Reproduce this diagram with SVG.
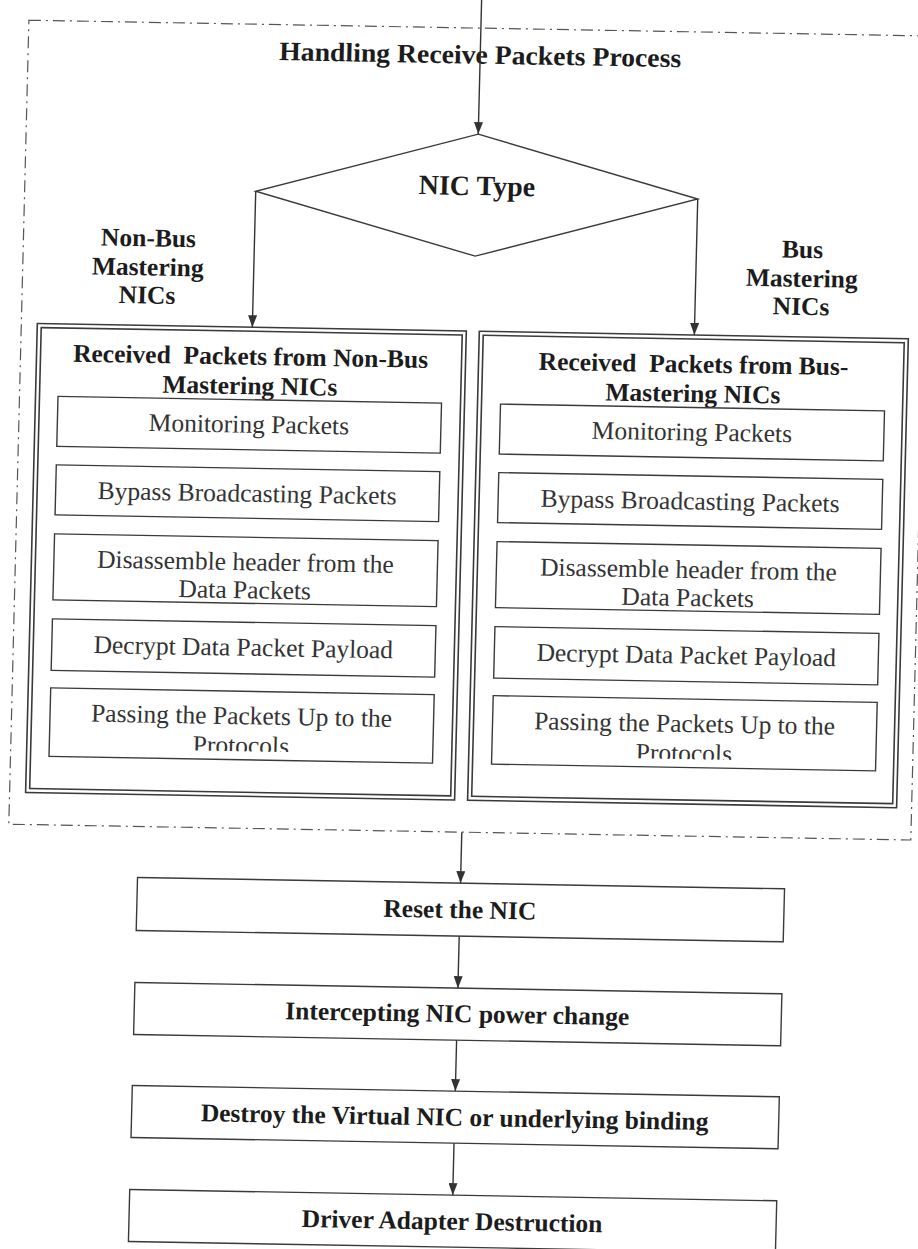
<svg xmlns="http://www.w3.org/2000/svg" width="918" height="1249" viewBox="0 0 918 1249">
<style>
text{font-family:"Liberation Serif","Times New Roman",serif;text-anchor:middle}
.b{font-weight:bold;fill:#1c1c1c}
.r{fill:#333}
.t{font-size:26.5px}
.l{font-size:25.5px}
.s{font-size:25.5px}
.box{fill:none;stroke:#3a3a3a;stroke-width:1.4}
.dbl{fill:none;stroke:#3a3a3a;stroke-width:1.6}
.frame{fill:none;stroke:#555;stroke-width:1.2;stroke-dasharray:12 5 2 5}
.con{fill:none;stroke:#333;stroke-width:1.4}
</style>
<defs>
<marker id="ah" viewBox="0 0 12 9" refX="12" refY="4.5" markerWidth="12" markerHeight="9" markerUnits="userSpaceOnUse" orient="auto">
<path d="M0,0 L12,4.5 L0,9 z" fill="#333"/>
</marker>
<clipPath id="clipL"><rect x="52" y="695" width="384" height="60"/></clipPath>
<clipPath id="clipR"><rect x="495" y="695" width="384" height="60"/></clipPath>
</defs>
<rect width="918" height="1249" fill="#fff"/>
<g transform="matrix(1 0.0175 -0.025 1 15.6 -8.03)">
<g id="process-frame">
<rect class="frame" x="14" y="28" width="902" height="804"/>
<text class="b t" x="466" y="63.5" textLength="402" lengthAdjust="spacingAndGlyphs">Handling Receive Packets Process</text>
</g>
<g id="nic-type">
<polygon class="box" points="466,134 687,195 466,256 245,195"/>
<text class="b" style="font-size:28px" x="466" y="195">NIC Type</text>
</g>
<g id="label-non-bus">
<text class="b l" x="139" y="252">Non-Bus</text>
<text class="b l" x="139" y="281">Mastering</text>
<text class="b l" x="139" y="309">NICs</text>
</g>
<g id="label-bus">
<text class="b l" x="793" y="252">Bus</text>
<text class="b l" x="793" y="281">Mastering</text>
<text class="b l" x="793" y="309">NICs</text>
</g>
<g id="non-bus-column">
<rect class="dbl" x="30" y="331" width="429" height="469"/>
<rect class="dbl" x="34" y="335" width="421" height="461"/>
<text class="b s" x="244" y="368.5" xml:space="preserve">Received  Packets from Non-Bus</text>
<text class="b s" x="244" y="398">Mastering NICs</text>
<g id="nb-monitor"><rect class="box" x="52.5" y="403.5" width="383.5" height="50"/><text class="r s" x="244" y="436.5">Monitoring Packets</text></g>
<g id="nb-bypass"><rect class="box" x="52.5" y="472" width="383.5" height="50"/><text class="r s" x="244" y="505.5">Bypass Broadcasting Packets</text></g>
<g id="nb-disassemble"><rect class="box" x="52.5" y="541" width="383.5" height="66"/><text class="r s" x="244" y="574">Disassemble header from the</text><text class="r s" x="244" y="602">Data Packets</text></g>
<g id="nb-decrypt"><rect class="box" x="52.5" y="626" width="383.5" height="51.5"/><text class="r s" x="244" y="659.5">Decrypt Data Packet Payload</text></g>
<g id="nb-passing"><rect class="box" x="52.5" y="695" width="383.5" height="68.5"/><text class="r s" x="244" y="728">Passing the Packets Up to the</text><text class="r s" x="244" y="757.5" clip-path="url(#clipL)">Protocols</text></g>
</g>
<g id="bus-column">
<rect class="dbl" x="472" y="331" width="429" height="469"/>
<rect class="dbl" x="476" y="335" width="421" height="461"/>
<text class="b s" x="687" y="368.5" xml:space="preserve">Received  Packets from Bus-</text>
<text class="b s" x="687" y="398">Mastering NICs</text>
<g id="b-monitor"><rect class="box" x="495" y="403.5" width="384" height="50"/><text class="r s" x="687" y="436.5">Monitoring Packets</text></g>
<g id="b-bypass"><rect class="box" x="495" y="472" width="384" height="50"/><text class="r s" x="687" y="505.5">Bypass Broadcasting Packets</text></g>
<g id="b-disassemble"><rect class="box" x="495" y="541" width="384" height="66"/><text class="r s" x="687" y="574">Disassemble header from the</text><text class="r s" x="687" y="602">Data Packets</text></g>
<g id="b-decrypt"><rect class="box" x="495" y="626" width="384" height="51.5"/><text class="r s" x="687" y="659.5">Decrypt Data Packet Payload</text></g>
<g id="b-passing"><rect class="box" x="495" y="695" width="384" height="68.5"/><text class="r s" x="687" y="728">Passing the Packets Up to the</text><text class="r s" x="687" y="757.5" clip-path="url(#clipR)">Protocols</text></g>
</g>
<g id="reset-nic"><rect class="box" x="144" y="883" width="647" height="53"/><text class="b s" x="467" y="918">Reset the NIC</text></g>
<g id="power-change"><rect class="box" x="144" y="988" width="647" height="52"/><text class="b s" x="467" y="1022">Intercepting NIC power change</text></g>
<g id="destroy-virtual"><rect class="box" x="144" y="1091" width="647" height="52"/><text class="b s" x="467" y="1125.5">Destroy the Virtual NIC or underlying binding</text></g>
<g id="driver-destruction"><rect class="box" x="144" y="1195" width="647" height="52"/><text class="b s" x="467" y="1229.5">Driver Adapter Destruction</text></g>
<g id="connectors">
<line class="con" x1="466" y1="-10" x2="466" y2="134" marker-end="url(#ah)"/>
<line class="con" x1="245" y1="195" x2="245" y2="331" marker-end="url(#ah)"/>
<line class="con" x1="687" y1="195" x2="687" y2="331" marker-end="url(#ah)"/>
<line class="con" x1="467" y1="832" x2="467" y2="883" marker-end="url(#ah)"/>
<line class="con" x1="467" y1="936" x2="467" y2="988" marker-end="url(#ah)"/>
<line class="con" x1="467" y1="1040" x2="467" y2="1091" marker-end="url(#ah)"/>
<line class="con" x1="467" y1="1143" x2="467" y2="1195" marker-end="url(#ah)"/>
</g>
</g>
</svg>
